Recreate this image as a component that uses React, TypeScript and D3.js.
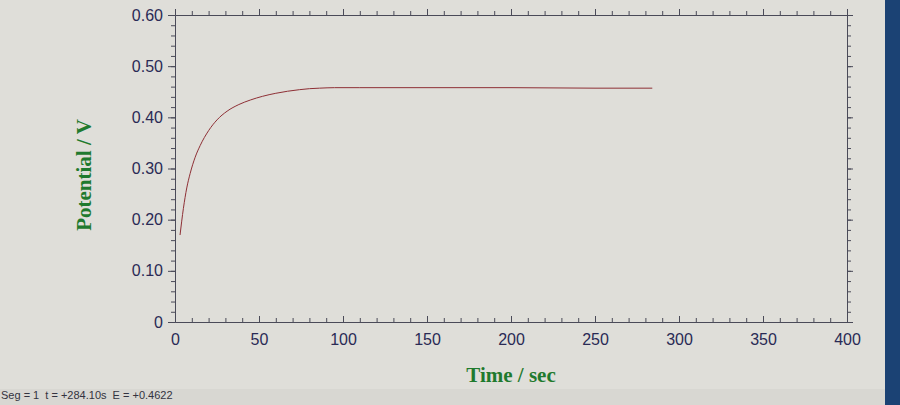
import React, { useEffect, useRef } from 'react';
import { select, scaleLinear, axisLeft, axisRight, axisTop, axisBottom, line, curveMonotoneX, range } from 'd3';

// time (sec) and potential (V)
const times = [3, 5, 7, 9, 12, 15, 20, 25, 31, 38, 45, 52, 60, 67, 74, 80, 86, 95, 110, 150, 200, 250, 284.1];
const potentials = [0.17, 0.222, 0.262, 0.29, 0.322, 0.345, 0.374, 0.395, 0.412, 0.425, 0.434, 0.441, 0.447, 0.451, 0.454, 0.456, 0.457, 0.458, 0.458, 0.458, 0.458, 0.457, 0.457];

const xTicks = [0, 50, 100, 150, 200, 250, 300, 350, 400];
const yTicks = [0, 0.1, 0.2, 0.3, 0.4, 0.5, 0.6];
const statusText = 'Seg = 1  t = +284.10s  E = +0.4622';

const W = 900;
const H = 405;

export default function App() {
  const svgRef = useRef<SVGSVGElement>(null);

  useEffect(() => {
    const svg = select(svgRef.current);
    svg.selectAll('*').remove();

    const x = scaleLinear().domain([0, 400]).range([175, 847]);
    const y = scaleLinear().domain([0, 0.6]).range([322, 15]);

    svg.append('rect').attr('width', W).attr('height', H).attr('fill', '#dfded9');
    svg.append('rect').attr('x', 0).attr('y', 389).attr('width', W).attr('height', 16).attr('fill', '#d8d7d2');
    svg.append('rect').attr('x', 885).attr('y', 0).attr('width', 15).attr('height', H).attr('fill', '#1b4274');

    const axisColor = '#4a4a58';
    const minorX = range(0, 401, 10);
    const minorY = range(0, 0.601, 0.02);

    const styleAxis = (g: any) => {
      g.select('.domain').attr('stroke', axisColor);
      g.selectAll('.tick line').attr('stroke', axisColor);
    };

    // minor ticks
    svg.append('g').attr('transform', 'translate(0,322)')
      .call(axisBottom(x).tickValues(minorX).tickSize(-4).tickFormat(() => '').tickSizeOuter(0)).call(styleAxis);
    svg.append('g').attr('transform', 'translate(0,15)')
      .call(axisTop(x).tickValues(minorX).tickSize(4).tickFormat(() => '').tickSizeOuter(0)).call(styleAxis);
    svg.append('g').attr('transform', 'translate(175,0)')
      .call(axisLeft(y).tickValues(minorY).tickSize(4).tickFormat(() => '').tickSizeOuter(0)).call(styleAxis);
    svg.append('g').attr('transform', 'translate(847,0)')
      .call(axisRight(y).tickValues(minorY).tickSize(4).tickFormat(() => '').tickSizeOuter(0)).call(styleAxis);

    // major ticks with labels
    const xAxis = svg.append('g').attr('transform', 'translate(0,322)')
      .call(axisBottom(x).tickValues(xTicks).tickSize(-6).tickPadding(12).tickSizeOuter(0)).call(styleAxis);
    xAxis.selectAll('.tick text')
      .attr('font-family', 'Arial, "Liberation Sans", sans-serif').attr('font-size', 16).attr('fill', '#2a2a55');

    const yAxis = svg.append('g').attr('transform', 'translate(175,0)')
      .call(axisLeft(y).tickValues(yTicks).tickSize(7).tickPadding(5).tickFormat((d: any) => (d === 0 ? '0' : d.toFixed(2))).tickSizeOuter(0))
      .call(styleAxis);
    yAxis.selectAll('.tick text')
      .attr('font-family', 'Arial, "Liberation Sans", sans-serif').attr('font-size', 16).attr('fill', '#2a2a55');

    svg.append('g').attr('transform', 'translate(0,15)')
      .call(axisTop(x).tickValues(xTicks).tickSize(6).tickFormat(() => '').tickSizeOuter(0)).call(styleAxis);
    svg.append('g').attr('transform', 'translate(847,0)')
      .call(axisRight(y).tickValues(yTicks).tickSize(6).tickFormat(() => '').tickSizeOuter(0)).call(styleAxis);

    // trace
    const pts = times.map((t, i) => [t, potentials[i]] as [number, number]);
    const gen = line<[number, number]>().x((d) => x(d[0])).y((d) => y(d[1])).curve(curveMonotoneX);
    svg.append('path').attr('d', gen(pts)).attr('fill', 'none').attr('stroke', '#8e2f35').attr('stroke-width', 1);

    // axis titles
    svg.append('text').attr('x', 511).attr('y', 382).attr('text-anchor', 'middle')
      .attr('font-family', '"Liberation Serif", "Times New Roman", serif').attr('font-weight', 'bold')
      .attr('font-size', 21).attr('fill', '#1f7a2e').text('Time / sec');
    svg.append('text').attr('transform', 'translate(91,175) rotate(-90)').attr('text-anchor', 'middle')
      .attr('font-family', '"Liberation Serif", "Times New Roman", serif').attr('font-weight', 'bold')
      .attr('font-size', 21).attr('fill', '#1f7a2e').text('Potential / V');

    svg.append('text').attr('x', 1).attr('y', 399)
      .attr('font-family', 'Arial, "Liberation Sans", sans-serif').attr('font-size', 11)
      .attr('fill', '#333340').style('white-space', 'pre').text(statusText);
  }, []);

  return (
    <svg ref={svgRef} width={W} height={H} style={{ position: 'absolute', left: 0, top: 0 }} />
  );
}
